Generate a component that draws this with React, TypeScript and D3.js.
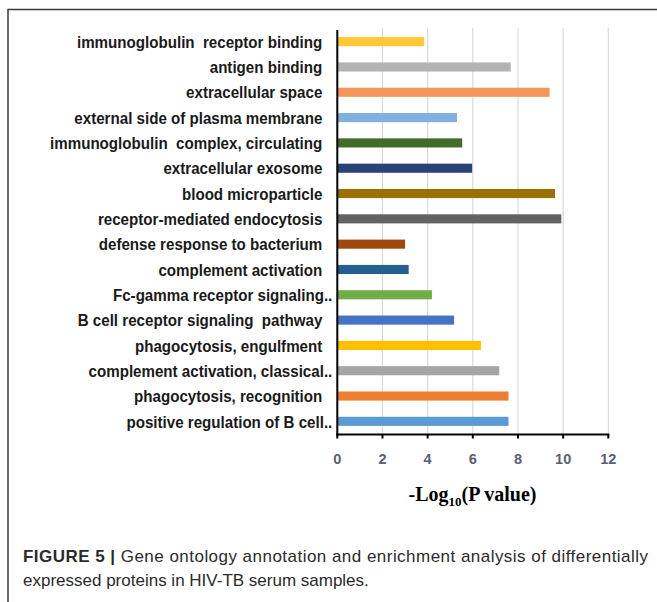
import React, { useEffect } from 'react';
import * as d3 from 'd3';

// GO terms, top to bottom, with -log10(P)
const TERMS: string[] = [
  'immunoglobulin  receptor binding',
  'antigen binding',
  'extracellular space',
  'external side of plasma membrane',
  'immunoglobulin  complex, circulating',
  'extracellular exosome',
  'blood microparticle',
  'receptor-mediated endocytosis',
  'defense response to bacterium',
  'complement activation',
  'Fc-gamma receptor signaling..',
  'B cell receptor signaling  pathway',
  'phagocytosis, engulfment',
  'complement activation, classical..',
  'phagocytosis, recognition',
  'positive regulation of B cell..',
];

const NEG_LOG_P: number[] = [
  3.85, 7.68, 9.4, 5.3, 5.53, 5.97, 9.64, 9.92,
  3.0, 3.16, 4.19, 5.17, 6.36, 7.17, 7.58, 7.58,
];

const BAR_COLORS: string[] = [
  '#ffc933', '#b3b3b3', '#f4965a', '#7fb0e0',
  '#436b2c', '#264478', '#9a7000', '#636363',
  '#9e480e', '#255e91', '#70ad47', '#4472c4',
  '#ffc000', '#a5a5a5', '#ed7d31', '#5b9bd5',
];

const X_TICKS: number[] = [0, 2, 4, 6, 8, 10, 12];

const W = 657;
const H = 602;

export default function App() {
  useEffect(() => {
    document.body.style.margin = '0';
  }, []);

  const x = d3.scaleLinear().domain([0, 12]).range([337.3, 608.3]);
  const y = d3.scaleBand<string>()
    .domain(TERMS)
    .range([29, 434])
    .paddingInner(0.64)
    .paddingOuter(0.32);

  const axisY = 434.5;
  const labelFont = '"Liberation Sans", Arial, sans-serif';

  return (
    <svg width={W} height={H} style={{ display: 'block', background: '#fff' }}>
      {/* figure frame */}
      <path d={`M8,${H} V9.5 H${W}`} fill="none" stroke="#3a3a3a" strokeWidth={1.5} />

      {/* gridlines */}
      {X_TICKS.filter(t => t > 0).map(t => (
        <line key={`g${t}`} x1={x(t)} x2={x(t)} y1={28} y2={axisY}
          stroke="#d9d9d9" strokeWidth={1.2} />
      ))}

      {/* bars */}
      {TERMS.map((term, i) => (
        <rect key={term} x={x(0)} y={y(term)} width={x(NEG_LOG_P[i]) - x(0)}
          height={y.bandwidth()} fill={BAR_COLORS[i]} />
      ))}

      {/* category labels — narrow bold look, squeezed horizontally */}
      {TERMS.map(term => {
        const ax = term.endsWith('..') ? x(0) - 5 : x(0) - 15;
        const cy = (y(term) ?? 0) + y.bandwidth() / 2;
        return (
          <text key={`l${term}`}
            transform={`translate(${ax},${cy}) scale(0.88,1)`}
            dy="0.36em" textAnchor="end"
            fontFamily={labelFont} fontWeight="bold" fontSize={17.2}
            fill="#1a1a1a" style={{ whiteSpace: 'pre' }}>
            {term}
          </text>
        );
      })}

      {/* axes */}
      <line x1={x(0)} x2={x(0)} y1={30} y2={axisY + 1} stroke="#000" strokeWidth={2} />
      <line x1={x(0) - 1} x2={x(12) + 1} y1={axisY} y2={axisY} stroke="#000" strokeWidth={2} />
      {X_TICKS.map(t => (
        <g key={`t${t}`}>
          <line x1={x(t)} x2={x(t)} y1={axisY} y2={axisY + 4} stroke="#000" strokeWidth={2} />
          <text x={x(t)} y={axisY + 29} textAnchor="middle"
            fontFamily={labelFont} fontWeight="bold" fontSize={14.5} fill="#5a6070">
            {t}
          </text>
        </g>
      ))}

      {/* axis title */}
      <text x={472.5} y={501} textAnchor="middle"
        fontFamily='"Liberation Serif", "Times New Roman", serif' fontWeight="bold" fontSize={20} fill="#000">
        -Log<tspan fontSize={13} dy={5}>10</tspan><tspan dy={-5}>(P value)</tspan>
      </text>

      {/* caption */}
      <text x={23} y={562} fontFamily='"Liberation Sans", Arial, sans-serif' fontSize={17} fill="#2b2b2b"
        textLength={625} lengthAdjust="spacing">
        <tspan fontWeight="bold">FIGURE 5 | </tspan>Gene ontology annotation and enrichment analysis of differentially
      </text>
      <text x={23} y={586} fontFamily='"Liberation Sans", Arial, sans-serif' fontSize={17} fill="#2b2b2b">
        expressed proteins in HIV-TB serum samples.
      </text>
    </svg>
  );
}
